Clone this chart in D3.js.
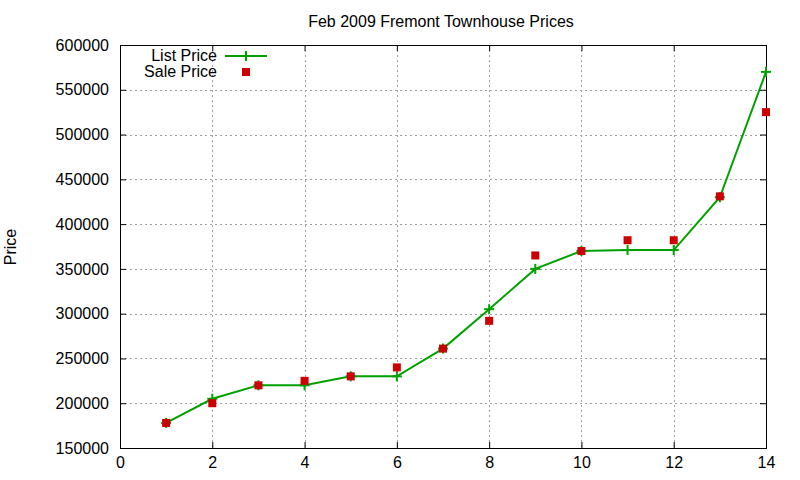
<!DOCTYPE html>
<html>
<head>
<meta charset="utf-8">
<script src="https://cdn.jsdelivr.net/npm/d3@7"></script>
<style>
  body { margin: 0; background: #fff; }
  text { font-family: "Liberation Sans", Arial, sans-serif; fill: #000; }
</style>
</head>
<body>
<div id="graph"></div>
<script>
// datos
const houses = [1, 2, 3, 4, 5, 6, 7, 8, 9, 10, 11, 12, 13, 14];
const listPrice = [178000, 205000, 220000, 220000, 230000, 230000, 261000, 305000, 350000, 370000, 371000, 371000, 430000, 570000];
const salePrice = [178000, 200000, 220000, 225000, 230000, 240000, 261000, 292000, 365000, 370000, 382000, 382000, 431000, 525000];
const xTicks = [0, 2, 4, 6, 8, 10, 12, 14];
const yTicks = [150000, 200000, 250000, 300000, 350000, 400000, 450000, 500000, 550000, 600000];

const width = 800, height = 480;
const margin = { top: 45, right: 34, bottom: 32, left: 120 };
const iw = width - margin.left - margin.right;
const ih = height - margin.top - margin.bottom;

const svg = d3.select("#graph").append("svg")
    .attr("width", width)
    .attr("height", height);

const x = d3.scaleLinear().domain([0, 14]).range([margin.left, margin.left + iw]);
const y = d3.scaleLinear().domain([150000, 600000]).range([margin.top + ih, margin.top]);

// rejilla punteada
const grid = svg.append("g").attr("stroke", "#a0a0a0").attr("stroke-width", 1).attr("stroke-dasharray", "2,3");
grid.selectAll("line.v").data(xTicks.slice(1, -1)).enter().append("line")
    .attr("x1", d => Math.round(x(d)) + 0.5).attr("x2", d => Math.round(x(d)) + 0.5)
    .attr("y1", margin.top).attr("y2", margin.top + ih);
grid.selectAll("line.h").data(yTicks.slice(1, -1)).enter().append("line")
    .attr("x1", margin.left).attr("x2", margin.left + iw)
    .attr("y1", d => Math.round(y(d)) + 0.5).attr("y2", d => Math.round(y(d)) + 0.5);

// ejes (ticks hacia adentro en los cuatro lados)
const fmt = d3.format("d");
const tickLen = 6;
svg.append("g").attr("transform", `translate(0,${margin.top + ih})`)
    .call(d3.axisBottom(x).tickValues(xTicks).tickFormat(fmt).tickSizeInner(-tickLen).tickSizeOuter(0).tickPadding(9));
svg.append("g").attr("transform", `translate(0,${margin.top})`)
    .call(d3.axisTop(x).tickValues(xTicks).tickFormat("").tickSizeInner(-tickLen).tickSizeOuter(0));
svg.append("g").attr("transform", `translate(${margin.left},0)`)
    .call(d3.axisLeft(y).tickValues(yTicks).tickFormat(fmt).tickSizeInner(-tickLen).tickSizeOuter(0).tickPadding(11));
svg.append("g").attr("transform", `translate(${margin.left + iw},0)`)
    .call(d3.axisRight(y).tickValues(yTicks).tickFormat("").tickSizeInner(-tickLen).tickSizeOuter(0));
svg.selectAll(".domain").remove();
svg.selectAll(".tick text").attr("font-size", 16).attr("font-family", "Liberation Sans, Arial, sans-serif");
svg.selectAll(".tick line").attr("stroke", "#000");

svg.append("rect")
    .attr("x", margin.left + 0.5).attr("y", margin.top + 0.5)
    .attr("width", iw).attr("height", ih)
    .attr("fill", "none").attr("stroke", "#000");

// linea de precio de lista
const green = "#00a000", red = "#cc0000";
const listData = houses.map((h, i) => [h, listPrice[i]]);
const line = d3.line().x(d => x(d[0])).y(d => y(d[1]));
svg.append("path").datum(listData)
    .attr("d", line).attr("fill", "none").attr("stroke", green).attr("stroke-width", 2);

const plus = (g, cx, cy) => {
    g.append("line").attr("x1", cx - 5).attr("x2", cx + 5).attr("y1", cy).attr("y2", cy);
    g.append("line").attr("x1", cx).attr("x2", cx).attr("y1", cy - 5).attr("y2", cy + 5);
};
const plusG = svg.append("g").attr("stroke", green).attr("stroke-width", 2);
listData.forEach(d => plus(plusG, x(d[0]), y(d[1])));

// precio de venta
svg.append("g").selectAll("rect").data(houses).enter().append("rect")
    .attr("x", (d, i) => x(d) - 4).attr("y", (d, i) => y(salePrice[i]) - 4)
    .attr("width", 8).attr("height", 8).attr("fill", red);

// leyenda
const lg = svg.append("g").attr("font-size", 16);
lg.append("text").attr("x", 217).attr("y", 61).attr("text-anchor", "end").text("List Price");
lg.append("line").attr("x1", 225).attr("x2", 267).attr("y1", 56).attr("y2", 56).attr("stroke", green).attr("stroke-width", 2);
plus(lg.append("g").attr("stroke", green).attr("stroke-width", 2), 246, 56);
lg.append("text").attr("x", 217).attr("y", 77).attr("text-anchor", "end").text("Sale Price");
lg.append("rect").attr("x", 242).attr("y", 68).attr("width", 8).attr("height", 8).attr("fill", red);

// titulos
svg.append("text").attr("x", 441).attr("y", 27).attr("text-anchor", "middle").attr("font-size", 16)
    .text("Feb 2009 Fremont Townhouse Prices");
svg.append("text").attr("transform", "translate(16,247) rotate(-90)").attr("text-anchor", "middle").attr("font-size", 16)
    .text("Price");
</script>
</body>
</html>
